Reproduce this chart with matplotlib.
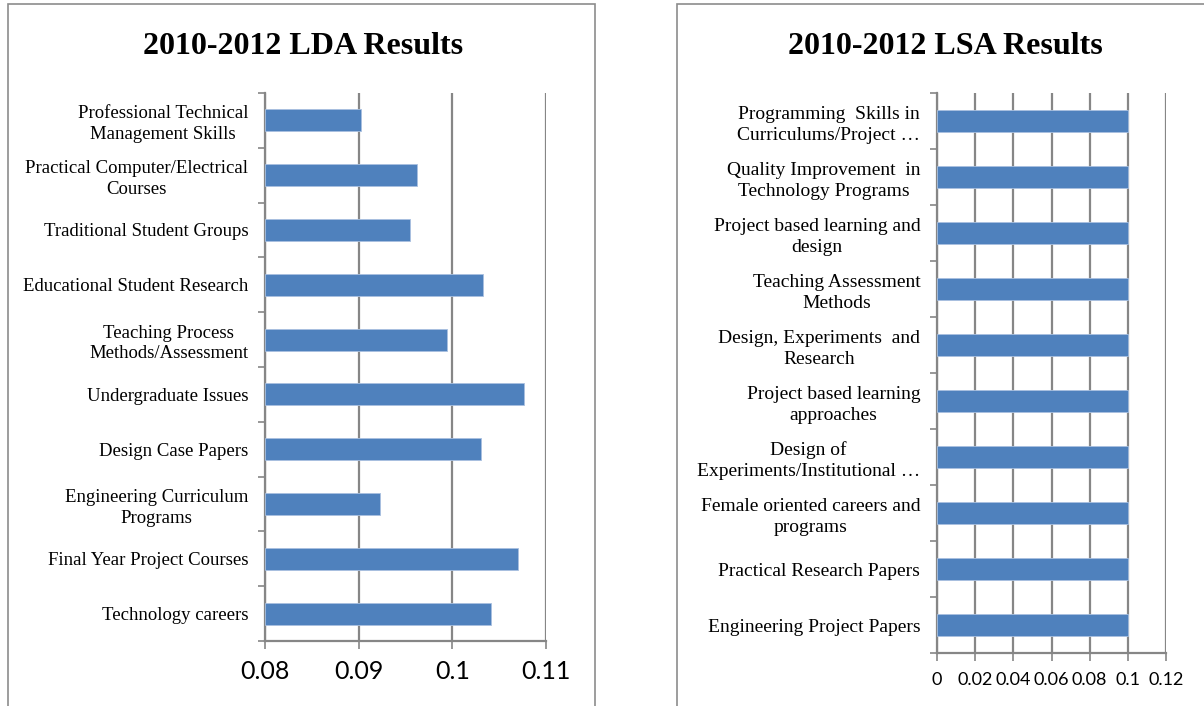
import matplotlib
matplotlib.use("Agg")
import matplotlib.pyplot as plt
from matplotlib.patches import Rectangle
import numpy as np

lda_topics = [
    "Professional Technical\nManagement Skills",
    "Practical Computer/Electrical\nCourses",
    "Traditional Student Groups",
    "Educational Student Research",
    "Teaching Process\nMethods/Assessment",
    "Undergraduate Issues",
    "Design Case Papers",
    "Engineering Curriculum\nPrograms",
    "Final Year Project Courses",
    "Technology careers",
]
lda_values = [0.0902, 0.0962, 0.0955, 0.1033, 0.0994, 0.1077, 0.1031, 0.0923, 0.1070, 0.1041]
lda_ticks = [0.08, 0.09, 0.1, 0.11]
lda_ticklabels = ["0.08", "0.09", "0.1", "0.11"]

lsa_topics = [
    "Programming  Skills in\nCurriculums/Project \u2026",
    "Quality Improvement  in\nTechnology Programs",
    "Project based learning and\ndesign",
    "Teaching Assessment\nMethods",
    "Design, Experiments  and\nResearch",
    "Project based learning\napproaches",
    "Design of\nExperiments/Institutional \u2026",
    "Female oriented careers and\nprograms",
    "Practical Research Papers",
    "Engineering Project Papers",
]
lsa_values = [0.1] * 10
lsa_ticks = [0, 0.02, 0.04, 0.06, 0.08, 0.1, 0.12]
lsa_ticklabels = ["0", "0.02", "0.04", "0.06", "0.08", "0.1", "0.12"]

BAR = "#4F81BD"
GRID = "#868686"
SERIF = "Liberation Serif"
SANS = "Lato"

fig = plt.figure(figsize=(12.04, 7.06), dpi=100)
W, H = 1204, 706

# chart frames
for x0, x1 in [(8, 595), (677, 1210)]:
    fig.patches.append(Rectangle((x0 / W, -0.05), (x1 - x0) / W, 1.05 - 4 / H,
                                 transform=fig.transFigure, fill=False,
                                 edgecolor="#8C8C8C", linewidth=1.2))


def draw_panel(rect, topics, values, ticks, ticklabels, xlim, xfs, yfs, title, title_x):
    ax = fig.add_axes(rect)
    n = len(topics)
    y = np.arange(n)
    # bars start at the axis minimum
    ax.barh(y, [v - xlim[0] for v in values], height=0.4, left=xlim[0], color=BAR,
            edgecolor="#A9C0E0", linewidth=0.6, zorder=3)
    ax.set_xlim(xlim)
    ax.set_ylim(n - 0.5, -0.5)
    ax.set_yticks(y)
    ax.set_yticklabels(topics, fontfamily=SERIF, fontsize=yfs, ha="right",
                       multialignment="center", linespacing=1.3)
    ax.set_yticks(np.arange(n + 1) - 0.5, minor=True)
    ax.tick_params(axis="y", which="major", length=0, pad=12)
    ax.tick_params(axis="y", which="minor", length=5, color=GRID, width=1.2)
    ax.set_xticks(ticks)
    ax.set_xticklabels(ticklabels, fontfamily=SANS, fontsize=xfs)
    ax.tick_params(axis="x", length=6, color=GRID, width=1.2, pad=8)
    ax.grid(True, axis="x", color=GRID, linewidth=1.6, zorder=0)
    for s in ["top", "right"]:
        ax.spines[s].set_visible(False)
    for s in ["left", "bottom"]:
        ax.spines[s].set_color(GRID)
        ax.spines[s].set_linewidth(1.6)
    fig.text(title_x / W, 1 - 46 / H, title, fontfamily=SERIF, fontweight="bold",
             fontsize=23, ha="center", va="center")
    return ax


ax1 = draw_panel([265 / W, 1 - 641 / H, (546 - 265) / W, (641 - 93) / H],
                 lda_topics, lda_values, lda_ticks, lda_ticklabels,
                 (0.08, 0.11), 18, 13.5, "2010-2012 LDA Results", 303)
ax2 = draw_panel([937 / W, 1 - 653 / H, (1166 - 937) / W, (653 - 93) / H],
                 lsa_topics, lsa_values, lsa_ticks, lsa_ticklabels,
                 (0, 0.12), 13, 14, "2010-2012 LSA Results", 945)

fig.savefig("out.png", dpi=100)
